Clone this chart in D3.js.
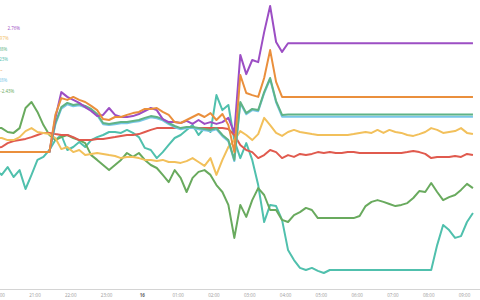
<!DOCTYPE html>
<html>
<head>
<meta charset="utf-8">
<script src="https://cdn.jsdelivr.net/npm/d3@7"></script>
<style>
body{margin:0;background:#fff;}
svg{display:block;font-family:"Open Sans",sans-serif;}
</style>
</head>
<body>
<svg width="480" height="300"></svg>
<script>
// samples every 10 minutes, first one at 19:55
var firstTime = new Date(2023, 5, 15, 19, 55);
var stepMinutes = 10;

var tickLabels = ["20:00","21:00","22:00","23:00","16","01:00","02:00","03:00","04:00","05:00","06:00","07:00","08:00","09:00"];

var legendLabels = ["2.76%", "0.97%", "0.38%", "-0.23%", "\u2013", "0.28%", "-2.43%"];

// % change
var purple = [
 -0.87,-0.87,-0.87,-0.87,-0.87,-0.87,-0.87,-0.87,-0.87,-0.87,
 0.27,1.13,0.97,0.87,0.77,0.63,0.50,0.33,0.37,0.60,
 0.37,0.30,0.30,0.33,0.40,0.50,0.60,0.53,0.23,0.13,
 0.13,0.10,0.17,0.07,0.20,0.07,0.13,0.07,0.13,0.27,
 -0.23,2.37,1.73,2.20,2.13,3.13,4.00,2.80,2.47,2.76,
 2.76,2.76,2.76,2.76,2.76,2.76,2.76,2.76,2.76,2.76,
 2.76,2.76,2.76,2.76,2.76,2.76,2.76,2.76,2.76,2.76,
 2.76,2.76,2.76,2.76,2.76,2.76,2.76,2.76,2.76,2.76,
 2.76];
var orange = [
 -0.87,-0.87,-0.87,-0.87,-0.87,-0.87,-0.87,-0.87,-0.87,-0.87,
 0.37,0.93,0.87,0.97,0.87,0.80,0.67,0.53,0.23,0.20,
 0.30,0.30,0.37,0.43,0.47,0.57,0.57,0.60,0.47,0.37,
 0.13,0.10,0.20,0.30,0.40,0.30,0.43,0.20,0.40,0.03,
 -0.87,1.70,1.10,1.03,0.97,1.60,2.53,1.47,0.97,0.97,
 0.97,0.97,0.97,0.97,0.97,0.97,0.97,0.97,0.97,0.97,
 0.97,0.97,0.97,0.97,0.97,0.97,0.97,0.97,0.97,0.97,
 0.97,0.97,0.97,0.97,0.97,0.97,0.97,0.97,0.97,0.97,
 0.97];
var greenA = [
 -0.87,-0.87,-0.87,-0.87,-0.87,-0.87,-0.87,-0.87,-0.87,-0.87,
 0.10,0.63,0.77,0.70,0.73,0.67,0.57,0.40,0.10,0.07,
 0.10,0.13,0.13,0.17,0.20,0.27,0.33,0.30,0.23,0.10,
 0.00,-0.07,-0.03,-0.03,-0.07,-0.10,-0.13,-0.07,-0.30,-0.47,
 -1.13,0.80,0.43,0.57,0.53,1.13,1.60,0.83,0.37,0.38,
 0.38,0.38,0.38,0.38,0.38,0.38,0.38,0.38,0.38,0.38,
 0.38,0.38,0.38,0.38,0.38,0.38,0.38,0.38,0.38,0.38,
 0.38,0.38,0.38,0.38,0.38,0.38,0.38,0.38,0.38,0.38,
 0.38];
var blue = [
 -0.87,-0.87,-0.87,-0.87,-0.87,-0.87,-0.87,-0.87,-0.87,-0.87,
 0.05,0.58,0.72,0.66,0.69,0.62,0.52,0.36,0.06,0.03,
 0.06,0.09,0.09,0.13,0.16,0.22,0.29,0.26,0.19,0.06,
 -0.04,-0.11,-0.07,-0.07,-0.11,-0.14,-0.17,-0.11,-0.34,-0.51,
 -1.17,0.76,0.39,0.53,0.49,1.09,1.56,0.79,0.31,0.31,
 0.31,0.31,0.31,0.31,0.31,0.31,0.31,0.31,0.31,0.31,
 0.31,0.31,0.31,0.31,0.31,0.31,0.31,0.31,0.31,0.31,
 0.31,0.31,0.31,0.31,0.31,0.31,0.31,0.31,0.31,0.31,
 0.31];
var red = [
 -0.73,-0.70,-0.57,-0.50,-0.47,-0.43,-0.37,-0.30,-0.23,-0.23,
 -0.27,-0.30,-0.30,-0.37,-0.47,-0.47,-0.47,-0.43,-0.43,-0.40,
 -0.37,-0.33,-0.30,-0.30,-0.27,-0.20,-0.13,-0.07,-0.07,-0.07,
 -0.07,-0.07,-0.07,-0.07,-0.07,-0.07,-0.07,-0.07,-0.07,-0.10,
 -0.30,-0.63,-0.80,-0.87,-1.07,-0.97,-0.80,-0.87,-1.07,-0.97,
 -1.03,-0.93,-0.97,-0.93,-0.87,-0.90,-0.87,-0.90,-0.90,-0.87,
 -0.87,-0.90,-0.90,-0.90,-0.90,-0.90,-0.90,-0.90,-0.90,-0.87,
 -0.83,-0.87,-0.93,-1.07,-1.03,-1.03,-1.03,-1.00,-1.03,-0.93,
 -0.97];
var yellow = [
 -0.40,-0.40,-0.47,-0.47,-0.37,-0.17,-0.07,-0.20,-0.23,-0.27,
 -0.40,-0.77,-0.70,-0.87,-0.80,-0.97,-0.93,-0.90,-0.93,-0.97,
 -1.00,-1.07,-1.03,-1.03,-1.07,-1.13,-1.13,-1.17,-1.13,-1.20,
 -1.20,-1.23,-1.17,-1.07,-1.20,-1.33,-1.07,-1.63,-1.13,-0.70,
 -0.47,-0.17,-0.30,-0.47,-0.27,0.27,0.03,-0.23,-0.33,-0.20,
 -0.13,-0.20,-0.23,-0.27,-0.30,-0.30,-0.30,-0.30,-0.30,-0.30,
 -0.27,-0.23,-0.20,-0.23,-0.13,-0.23,-0.13,-0.20,-0.23,-0.30,
 -0.33,-0.27,-0.20,-0.07,-0.13,-0.23,-0.20,-0.17,-0.07,-0.23,
 -0.27];
var lowGreen = [
 -0.07,-0.07,-0.20,-0.23,-0.07,0.60,0.80,0.47,0.03,-0.30,
 -0.47,-0.37,-0.30,-0.40,-0.47,-0.57,-0.97,-1.13,-1.30,-1.47,
 -1.30,-1.13,-0.90,-1.03,-0.90,-1.13,-1.30,-1.40,-1.63,-1.87,
 -1.47,-1.73,-2.20,-1.73,-1.53,-1.47,-1.63,-1.97,-2.20,-2.63,
 -3.73,-2.63,-3.03,-2.47,-2.07,-2.30,-2.80,-2.80,-3.13,-3.20,
 -2.97,-2.87,-2.73,-2.80,-3.07,-3.07,-3.07,-3.07,-3.07,-3.07,
 -3.07,-3.00,-2.67,-2.53,-2.47,-2.53,-2.60,-2.67,-2.63,-2.57,
 -2.40,-2.17,-2.20,-1.90,-2.20,-2.47,-2.37,-2.30,-2.13,-1.93,
 -2.07];
var teal = [
 -1.47,-1.63,-1.37,-1.70,-1.47,-2.10,-1.63,-1.13,-1.03,-0.80,
 -0.47,-0.30,-0.80,-0.70,-0.53,-0.70,-0.47,-0.37,-0.30,-0.20,
 -0.20,-0.23,-0.13,-0.23,-0.37,-0.73,-0.80,-1.07,-0.87,-0.63,
 -0.40,-0.30,-0.13,0.03,-0.30,-0.07,-0.20,1.03,0.53,0.70,
 -0.47,-1.07,-0.57,-1.13,-1.97,-3.20,-2.63,-2.67,-3.13,-4.13,
 -4.47,-4.73,-4.80,-4.73,-4.83,-4.90,-4.80,-4.80,-4.80,-4.80,
 -4.80,-4.80,-4.80,-4.80,-4.80,-4.80,-4.80,-4.80,-4.80,-4.80,
 -4.80,-4.80,-4.80,-4.80,-3.97,-3.30,-3.47,-3.73,-3.67,-3.20,
 -2.90];

// drawn bottom to top
var series = [
  {values: teal,     color: "#50c0ad"},
  {values: lowGreen, color: "#69aa5e"},
  {values: red,      color: "#e05a4e"},
  {values: yellow,   color: "#f2c05b"},
  {values: blue,     color: "#78c6e8"},
  {values: greenA,   color: "#5fb386"},
  {values: purple,   color: "#9c4ec4"},
  {values: orange,   color: "#ea8f3c"}
];
var legendColors = ["#9c4ec4","#f2c05b","#5fb386","#50c0ad","#ea8f3c","#78c6e8","#69aa5e"];
var legendRight = [20, 8.7, 7.3, 8, 2.5, 7.3, 14.3];

var times = purple.map(function(d, i){ return d3.timeMinute.offset(firstTime, i*stepMinutes); });
var tickTimes = tickLabels.map(function(d, i){ return d3.timeHour.offset(new Date(2023, 5, 15, 20), i); });

var svg = d3.select("svg");

var x = d3.scaleTime()
  .domain([new Date(2023, 5, 15, 19), new Date(2023, 5, 16, 10)])
  .range([-37.1, 499.8]);
var y = d3.scaleLinear().domain([4.2, -5.3]).range([0, 285]);

var line = d3.line()
  .x(function(d, i){ return x(times[i]); })
  .y(function(d){ return y(d); });

svg.append("g")
  .selectAll("path")
  .data(series)
  .join("path")
  .attr("d", function(s){ return line(s.values); })
  .attr("fill", "none")
  .attr("stroke", function(s){ return s.color; })
  .attr("stroke-width", 2)
  .attr("stroke-linejoin", "round");

var axis = svg.append("g")
  .attr("transform", "translate(0,289)")
  .call(d3.axisBottom(x)
    .tickValues(tickTimes)
    .tickFormat(function(d, i){ return tickLabels[i]; })
    .tickSize(0)
    .tickSizeOuter(0)
    .tickPadding(4.5));
axis.select(".domain").attr("stroke", "#d4d4d4");
axis.selectAll("text")
  .attr("fill", "#9a9a9a")
  .style("font-size", "4.5px")
  .style("font-family", "'Open Sans', sans-serif")
  .filter(function(d, i){ return tickLabels[i] == "16"; })
  .attr("fill", "#666")
  .style("font-weight", "bold");

svg.append("g")
  .selectAll("text")
  .data(legendLabels)
  .join("text")
  .attr("x", function(d, i){ return legendRight[i]; })
  .attr("y", function(d, i){ return 28 + i*10.5; })
  .attr("dy", "0.35em")
  .attr("text-anchor", "end")
  .attr("fill", function(d, i){ return legendColors[i]; })
  .style("font-size", "4.5px")
  .text(function(d){ return d; });
</script>
</body>
</html>
